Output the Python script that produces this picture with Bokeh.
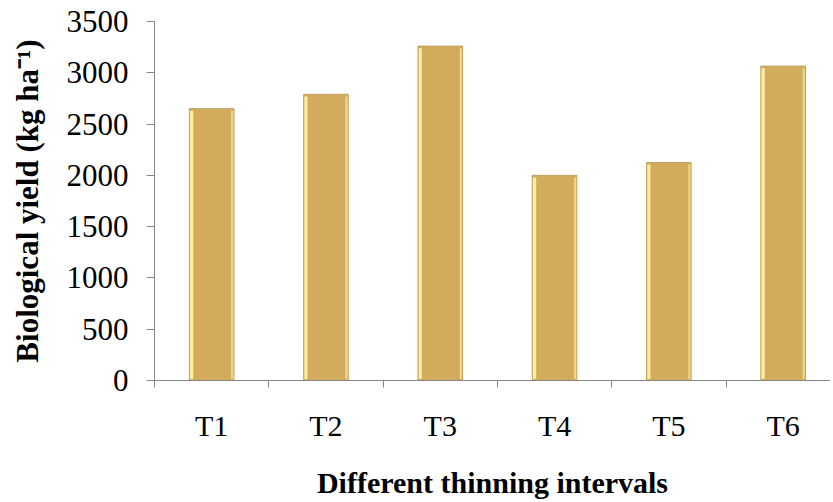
from bokeh.plotting import figure
from bokeh.models import Range1d, FixedTicker, ColumnDataSource
from bokeh.embed import file_html
from bokeh.resources import INLINE

categories = ["T1", "T2", "T3", "T4", "T5", "T6"]
biological_yield = [2650, 2790, 3260, 2000, 2125, 3065]
y_ticks = [0, 500, 1000, 1500, 2000, 2500, 3000, 3500]
x_title = "Different thinning intervals"
y_title = "Biological yield (kg ha\u207b\u00b9)"

W, H = 830, 501
LEFT, TOP, BOTTOM = 154, 21, 120
frame_w = W - LEFT
cat_px = 114.3
x_end = frame_w / cat_px

centers = [i + 0.5 for i in range(len(categories))]
bounds = list(range(len(categories) + 1))
bw = 0.39
src = ColumnDataSource(dict(x=centers, top=biological_yield, cat=categories))

p = figure(width=W, height=H, output_backend="svg", toolbar_location=None,
           x_range=Range1d(0, x_end), y_range=Range1d(0, 3500),
           min_border_left=LEFT, min_border_right=0, min_border_top=TOP,
           min_border_bottom=BOTTOM)
p.outline_line_color = None
p.xgrid.visible = False
p.ygrid.visible = False
p.background_fill_color = "white"
p.border_fill_color = "white"

# bars
p.vbar(x="x", top="top", width=bw, bottom=0, source=src,
       fill_color="#D2AC5C", line_color="#BFA060", line_width=1)
# bevel highlights
left = [c - bw / 2 + 0.02 for c in centers]
right = [c + bw / 2 - 0.015 for c in centers]
p.vbar(x=left, top=[v - 20 for v in biological_yield], bottom=15, width=0.028,
       fill_color="#FFEDA0", line_color=None)
p.vbar(x=right, top=[v - 20 for v in biological_yield], bottom=15, width=0.02,
       fill_color="#F2D688", line_color=None)

font = "Liberation Serif"
ax = p.yaxis[0]
ax.ticker = FixedTicker(ticks=y_ticks)
ax.axis_label = y_title
ax.axis_label_text_font = font
ax.axis_label_text_font_style = "bold"
ax.axis_label_text_font_size = "31px"
ax.axis_label_text_color = "black"
ax.axis_label_standoff = 19
ax.major_label_text_font = font
ax.major_label_text_font_size = "31px"
ax.major_label_text_color = "black"
ax.major_label_standoff = 18
ax.major_tick_in = 0
ax.major_tick_out = 8
ax.minor_tick_out = 0
ax.minor_tick_in = 0
ax.axis_line_color = "#868686"
ax.major_tick_line_color = "#868686"

xa = p.xaxis[0]
xa.ticker = FixedTicker(ticks=centers, minor_ticks=bounds)
xa.major_label_overrides = {c: cat for c, cat in zip(centers, categories)}
xa.axis_label = x_title
xa.axis_label_text_font = font
xa.axis_label_text_font_style = "bold"
xa.axis_label_text_font_size = "30px"
xa.axis_label_text_color = "black"
xa.axis_label_standoff = 21
xa.major_label_text_font = font
xa.major_label_text_font_size = "30px"
xa.major_label_text_color = "black"
xa.major_label_standoff = 21
xa.major_tick_in = 0
xa.major_tick_out = 0
xa.minor_tick_in = 0
xa.minor_tick_out = 7
xa.axis_line_color = "#868686"
xa.minor_tick_line_color = "#868686"

open("out.html", "w").write(file_html(p, INLINE))
